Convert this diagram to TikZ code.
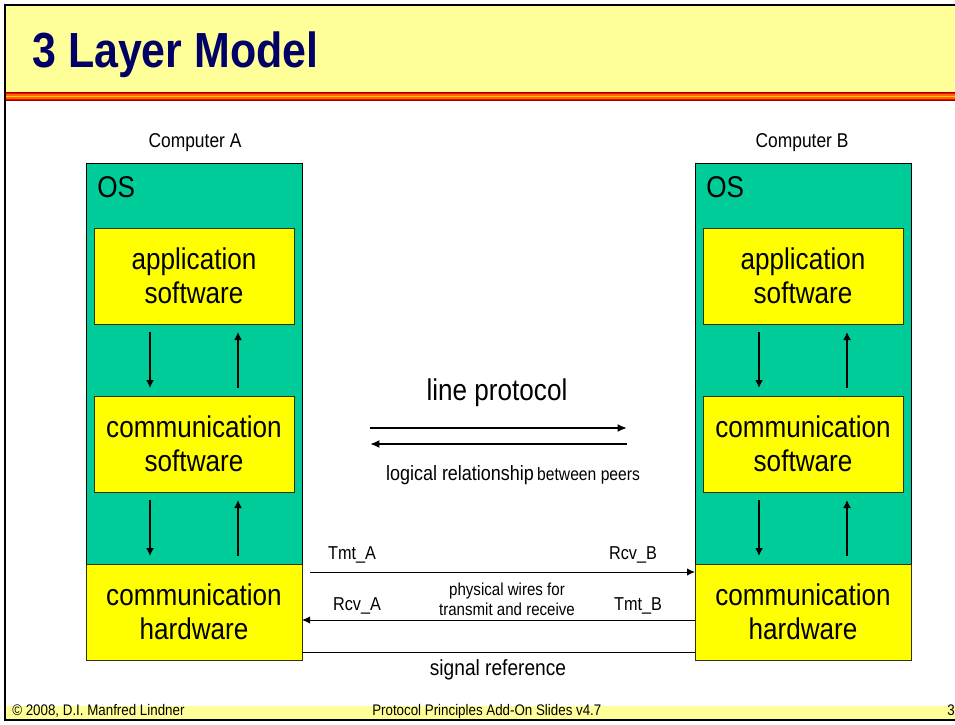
\documentclass[tikz,border=0pt]{standalone}
\usepackage{fontspec}
\setmainfont[FakeStretch=0.87]{Liberation Sans}
\usetikzlibrary{arrows.meta,calc}

\definecolor{slidebg}{HTML}{FFFF99}
\definecolor{titleblue}{HTML}{000066}
\definecolor{osgreen}{HTML}{00CC99}
\definecolor{layeryellow}{HTML}{FFFF00}
\definecolor{edgeolive}{HTML}{333300}
\definecolor{darkred}{HTML}{990000}
\definecolor{stripeorange}{HTML}{FF6600}
\definecolor{stripegold}{HTML}{FFCC00}

\tikzset{
  osbox/.style={draw=black, line width=0.75pt, fill=osgreen, inner sep=0pt, outer sep=0pt,
    minimum width=162pt, minimum height=300.75pt},
  layerbox/.style={draw=edgeolive, line width=0.75pt, fill=layeryellow, inner sep=0pt, outer sep=0pt,
    align=center, font=\fontsize{22.5pt}{25.5pt}\selectfont},
  innerlayer/.style={layerbox, minimum width=150pt, minimum height=72pt},
  hwlayer/.style={layerbox, minimum width=162pt, minimum height=72pt},
  pcname/.style={font=\fontsize{15pt}{18pt}\selectfont},
  oslabel/.style={font=\fontsize{22.5pt}{25pt}\selectfont, anchor=north west, inner sep=0pt},
  stackarrow/.style={-{Latex[length=6pt,width=6pt]}, line width=1pt},
  peerarrow/.style={-{Latex[length=7pt,width=6pt]}, line width=1.5pt},
  wire/.style={line width=0.75pt},
  wirearrow/.style={wire, -{Latex[length=6pt,width=5.5pt]}},
  wirelabel/.style={font=\fontsize{14pt}{16pt}\selectfont, anchor=base},
  footertext/.style={font=\fontsize{11.5pt}{13pt}\selectfont, anchor=base west, inner sep=0pt}
}

\begin{document}
\begin{tikzpicture}[x=0.75pt, y=-0.75pt]
\useasboundingbox (0,0) rectangle (955,724);
\clip (0,0) rectangle (955,724);
\fill[white] (0,0) rectangle (955,724);

% slide header band with its striped rule
\fill[slidebg] (5,6) rectangle (980,92);
\fill[darkred] (5,91.5) rectangle (980,101);
\fill[red] (5,92.5) rectangle (980,100);
\fill[stripeorange] (5,94) rectangle (980,98.5);
\fill[stripegold] (5,95.5) rectangle (980,97);

% footer band
\fill[slidebg] (5,706) rectangle (980,720);

% slide frame (its right side lies beyond the visible area)
\draw[line width=1.5pt] (980,5.5) -- (5,5.5) -- (5,720) -- (980,720);

\node[anchor=base west, inner sep=0pt, text=titleblue,
      font=\fontsize{37pt}{42pt}\selectfont\bfseries] (title) at (32,67) {3 Layer Model};

% ---------------- Computer A ----------------
\node[pcname] (pcA) at (195,143) {Computer A};
\node[osbox] (osA) at (194,363.5) {};
\node[oslabel] (osAlbl) at (97,176) {OS};
\node[innerlayer] (appA) at (194,276) {application\\software};
\node[innerlayer] (commA) at (194,444) {communication\\software};
\node[hwlayer] (hwA) at (194,612) {communication\\hardware};

\draw[stackarrow, shorten <=6pt, shorten >=6pt] ($(appA.south)+(-44,0)$) -- ($(commA.north)+(-44,0)$);
\draw[stackarrow, shorten <=6pt, shorten >=6pt] ($(commA.north)+(44,0)$) -- ($(appA.south)+(44,0)$);
\draw[stackarrow, shorten <=6pt, shorten >=6pt] ($(commA.south)+(-44,0)$) -- ($(hwA.north)+(-44,0)$);
\draw[stackarrow, shorten <=6pt, shorten >=6pt] ($(hwA.north)+(44,0)$) -- ($(commA.south)+(44,0)$);

% ---------------- Computer B ----------------
\node[pcname] (pcB) at (802,143) {Computer B};
\node[osbox] (osB) at (803,363.5) {};
\node[oslabel] (osBlbl) at (706,176) {OS};
\node[innerlayer] (appB) at (803,276) {application\\software};
\node[innerlayer] (commB) at (803,444) {communication\\software};
\node[hwlayer] (hwB) at (803,612) {communication\\hardware};

\draw[stackarrow, shorten <=6pt, shorten >=6pt] ($(appB.south)+(-44,0)$) -- ($(commB.north)+(-44,0)$);
\draw[stackarrow, shorten <=6pt, shorten >=6pt] ($(commB.north)+(44,0)$) -- ($(appB.south)+(44,0)$);
\draw[stackarrow, shorten <=6pt, shorten >=6pt] ($(commB.south)+(-44,0)$) -- ($(hwB.north)+(-44,0)$);
\draw[stackarrow, shorten <=6pt, shorten >=6pt] ($(hwB.north)+(44,0)$) -- ($(commB.south)+(44,0)$);

% ---------------- logical peer relationship ----------------
\node[anchor=base, font=\fontsize{22.5pt}{25pt}\selectfont] (lineproto) at (497,400) {line protocol};
\coordinate (peerL1) at (370,428);
\coordinate (peerR1) at (627,428);
\coordinate (peerL2) at (370,444);
\coordinate (peerR2) at (627,444);
\draw[peerarrow] (peerL1) -- (peerR1);
\draw[peerarrow] (peerR2) -- (peerL2);
\node[anchor=base] (peers) at (513,480)
  {{\fontsize{15.5pt}{18pt}\selectfont logical relationship} {\fontsize{13.5pt}{16pt}\selectfont between peers}};

% ---------------- physical wires ----------------
\draw[wirearrow] ($(hwA.east)+(8,-40)$) -- ($(hwB.west)+(0,-40)$);
\draw[wirearrow] ($(hwB.west)+(0,8)$) -- ($(hwA.east)+(0,8)$);
\draw[wire] ($(hwA.east)+(0,40)$) -- ($(hwB.west)+(0,40)$);

\node[wirelabel] (tmtA) at (352,559) {Tmt\_A};
\node[wirelabel] (rcvB) at (633,559) {Rcv\_B};
\node[wirelabel] (rcvA) at (357,610) {Rcv\_A};
\node[wirelabel] (tmtB) at (638,610) {Tmt\_B};
\node[anchor=base, align=center, font=\fontsize{13pt}{15pt}\selectfont] (wires) at (507,615)
  {physical wires for\\transmit and receive};
\node[anchor=base, font=\fontsize{16.5pt}{19pt}\selectfont] (sigref) at (498,675) {signal reference};

% ---------------- footer ----------------
\node[footertext] (copy) at (12,715) {© 2008, D.I. Manfred Lindner};
\node[footertext] (series) at (372,715) {Protocol Principles Add-On Slides v4.7};
\node[footertext] (pageno) at (947,715) {3};
\end{tikzpicture}
\end{document}
